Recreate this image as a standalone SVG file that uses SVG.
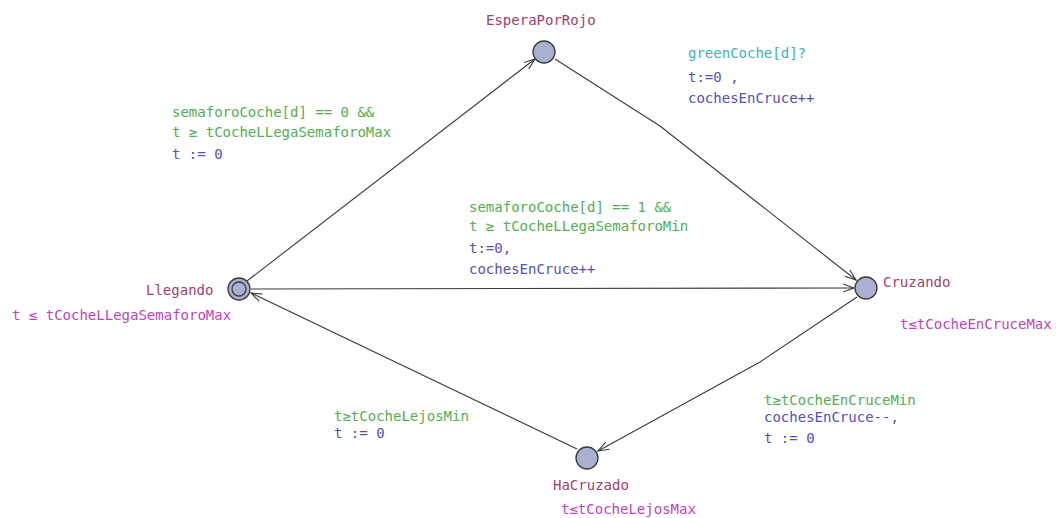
<svg xmlns="http://www.w3.org/2000/svg" width="1061" height="518" viewBox="0 0 1061 518">
  <style>
    text { font-family: "DejaVu Sans Mono", "Liberation Mono", monospace; font-size: 14px; }
    .name { fill: #a33d6e; }
    .inv { fill: #c43fc4; }
    .guard { fill: #4fb04f; }
    .sync { fill: #3fb0c2; }
    .assign { fill: #5450bb; }
    .loc { fill: #a9b0d2; stroke: #3a3a3a; stroke-width: 1.3; }
    .edge { fill: none; stroke: #3a3a3a; stroke-width: 1.1; marker-end: url(#arr); }
  </style>
  <defs>
    <marker id="arr" viewBox="0 0 12 10" refX="11" refY="5" markerWidth="12" markerHeight="10" markerUnits="userSpaceOnUse" orient="auto">
      <path d="M0,1 L11,5 L0,9" fill="none" stroke="#3a3a3a" stroke-width="1.1"/>
    </marker>
  </defs>
  <rect width="1061" height="518" fill="#ffffff"/>

  <!-- transitions -->
  <g id="edges">
    <path class="edge" d="M247,281 L535,59"/>
    <path class="edge" d="M555,59 L660,126 L856,280"/>
    <path class="edge" d="M251,289 L854,288"/>
    <path class="edge" d="M857,297 L760,362 L598,451"/>
    <path class="edge" d="M577,449 L251,293"/>
  </g>

  <g id="labels">
    <text class="guard" x="172" y="117">semaforoCoche[d] == 0 &amp;&amp;</text>
    <text class="guard" x="172" y="137">t ≥ tCocheLLegaSemaforoMax</text>
    <text class="assign" x="172" y="159">t := 0</text>

    <text class="sync" x="688" y="58">greenCoche[d]?</text>
    <text class="assign" x="688" y="82">t:=0 ,</text>
    <text class="assign" x="688" y="103">cochesEnCruce++</text>

    <text class="guard" x="469" y="212">semaforoCoche[d] == 1 &amp;&amp;</text>
    <text class="guard" x="469" y="231">t ≥ tCocheLLegaSemaforoMin</text>
    <text class="assign" x="469" y="253">t:=0,</text>
    <text class="assign" x="469" y="274">cochesEnCruce++</text>

    <text class="guard" x="764" y="405">t≥tCocheEnCruceMin</text>
    <text class="assign" x="764" y="422">cochesEnCruce--,</text>
    <text class="assign" x="764" y="443">t := 0</text>

    <text class="guard" x="334" y="421">t≥tCocheLejosMin</text>
    <text class="assign" x="334" y="438">t := 0</text>
  </g>

  <g id="EsperaPorRojo">
    <circle class="loc" cx="544" cy="52" r="11"/>
    <text class="name" x="486" y="25">EsperaPorRojo</text>
  </g>

  <g id="Llegando">
    <circle class="loc" cx="239" cy="289" r="11"/>
    <circle class="loc" cx="239" cy="289" r="7"/>
    <text class="name" x="146" y="295">Llegando</text>
    <text class="inv" x="12" y="320">t ≤ tCocheLLegaSemaforoMax</text>
  </g>

  <g id="Cruzando">
    <circle class="loc" cx="866" cy="288" r="11"/>
    <text class="name" x="883" y="287">Cruzando</text>
    <text class="inv" x="900" y="329">t≤tCocheEnCruceMax</text>
  </g>

  <g id="HaCruzado">
    <circle class="loc" cx="587" cy="458" r="11"/>
    <text class="name" x="553" y="490">HaCruzado</text>
    <text class="inv" x="561" y="514">t≤tCocheLejosMax</text>
  </g>
</svg>
